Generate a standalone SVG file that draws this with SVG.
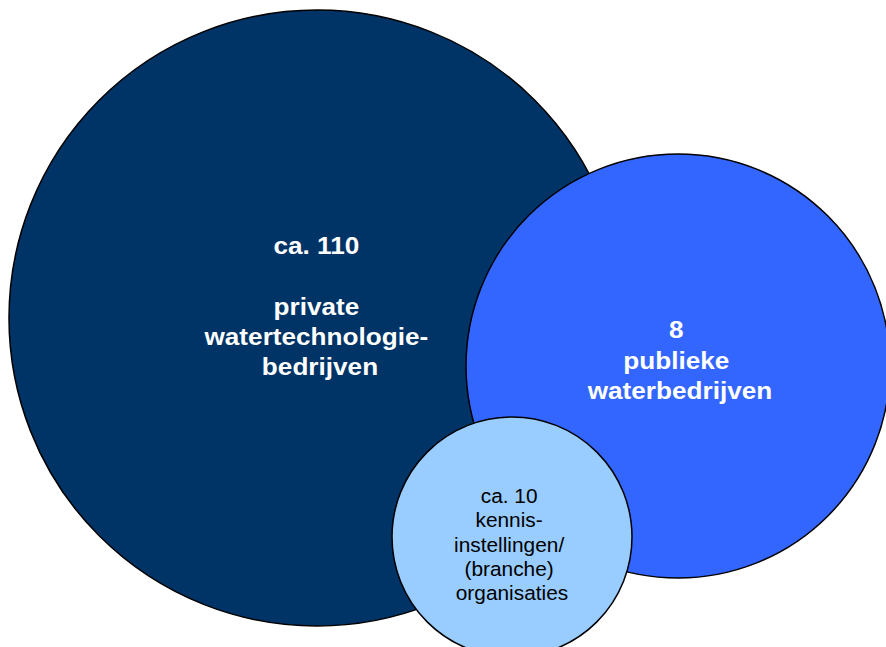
<svg xmlns="http://www.w3.org/2000/svg" width="886" height="647" viewBox="0 0 886 647">
<style>
.c{stroke:#000;stroke-width:1.5}
.t{font-family:"Liberation Sans",Arial,sans-serif;text-anchor:middle}
.w{fill:#fff;font-weight:bold}
.k{fill:#000}
</style>
<rect width="886" height="647" fill="#fff"/>
<g id="private">
<circle class="c" cx="317" cy="318" r="308" fill="#003366"/>
<text class="t w" font-size="24" transform="translate(320,0) scale(1.09,1)">
<tspan x="0" y="254">ca. 110</tspan>
<tspan x="0" y="315">private</tspan>
<tspan x="0" y="345">watertechnologie-</tspan>
<tspan x="0" y="375">bedrijven</tspan>
</text>
</g>
<g id="publiek">
<circle class="c" cx="678" cy="366" r="212" fill="#3366FF"/>
<text class="t w" font-size="24" transform="translate(680,0) scale(1.09,1)">
<tspan x="0" y="338">8</tspan>
<tspan x="0" y="369">publieke</tspan>
<tspan x="0" y="399">waterbedrijven</tspan>
</text>
</g>
<g id="kennis">
<circle class="c" cx="512" cy="537" r="120" fill="#99CCFF"/>
<text class="t k" font-size="19.5" transform="translate(512,0) scale(1.07,1)">
<tspan x="0" y="503">ca. 10</tspan>
<tspan x="0" y="527">kennis-</tspan>
<tspan x="0" y="552">instellingen/</tspan>
<tspan x="0" y="576">(branche)</tspan>
<tspan x="0" y="600">organisaties</tspan>
</text>
</g>
<g id="connectors"/>
</svg>
